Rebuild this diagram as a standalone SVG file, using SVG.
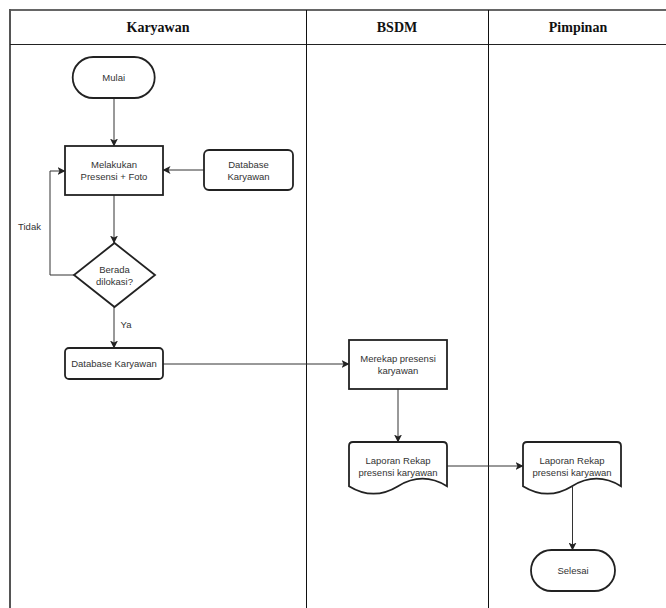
<svg xmlns="http://www.w3.org/2000/svg" width="666" height="608" viewBox="0 0 666 608">
  <defs>
    <style>
      .lane-title { font-family: "Liberation Serif", "Times New Roman", serif; font-weight: bold; font-size: 14px; fill: #111; text-anchor: middle; }
      .label { font-family: "Liberation Sans", Arial, sans-serif; font-size: 9.5px; fill: #333; text-anchor: middle; }
      .shape { fill: #fff; stroke: #222; stroke-width: 1.8; }
      .edge { fill: none; stroke: #333; stroke-width: 1; }
    </style>
    <marker id="arrow" viewBox="0 0 8 8" refX="7.5" refY="4" markerWidth="8" markerHeight="8" markerUnits="userSpaceOnUse" orient="auto">
      <path d="M0,0 L8,4 L0,8 L2,4 z" fill="#222"/>
    </marker>
  </defs>

  <rect width="666" height="608" fill="#fff"/>

  <!-- swimlane frame -->
  <g id="lanes">
    <line x1="10" y1="10" x2="666" y2="10" stroke="#666" stroke-width="2"/>
    <line x1="10" y1="9" x2="10" y2="608" stroke="#555" stroke-width="2"/>
    <line x1="10" y1="44.5" x2="666" y2="44.5" stroke="#222" stroke-width="1"/>
    <line x1="306.5" y1="10" x2="306.5" y2="608" stroke="#111" stroke-width="1"/>
    <line x1="488.5" y1="10" x2="488.5" y2="608" stroke="#111" stroke-width="1"/>
    <text class="lane-title" x="158" y="32">Karyawan</text>
    <text class="lane-title" x="397" y="32">BSDM</text>
    <text class="lane-title" x="578" y="32">Pimpinan</text>
  </g>

  <!-- connectors -->
  <g id="connectors">
    <path class="edge" d="M114,98 L114,146" marker-end="url(#arrow)"/>
    <path class="edge" d="M204,170 L163,170" marker-end="url(#arrow)"/>
    <path class="edge" d="M114,195 L114,243" marker-end="url(#arrow)"/>
    <path class="edge" d="M74,275 L50,275 L50,171 L65,171" marker-end="url(#arrow)"/>
    <path class="edge" d="M114,307 L114,348" marker-end="url(#arrow)"/>
    <path class="edge" d="M163,364 L349,364" marker-end="url(#arrow)"/>
    <path class="edge" d="M398,389 L398,442" marker-end="url(#arrow)"/>
    <path class="edge" d="M447,466 L523,466" marker-end="url(#arrow)"/>
    <path class="edge" d="M572.5,487 L572.5,550" marker-end="url(#arrow)"/>
    <text class="label" x="29.5" y="230">Tidak</text>
    <text class="label" x="126" y="328">Ya</text>
  </g>

  <g id="mulai">
    <rect class="shape" x="72.7" y="57" width="82" height="41" rx="20.5"/>
    <text class="label" x="113.7" y="81">Mulai</text>
  </g>

  <g id="melakukan-presensi">
    <rect class="shape" x="65" y="146" width="98" height="49"/>
    <text class="label" x="114" y="168">Melakukan</text>
    <text class="label" x="114" y="180">Presensi + Foto</text>
  </g>

  <g id="database-karyawan-input">
    <rect class="shape" x="204" y="150" width="89" height="40" rx="5"/>
    <text class="label" x="248.5" y="168">Database</text>
    <text class="label" x="248.5" y="180">Karyawan</text>
  </g>

  <g id="berada-dilokasi">
    <polygon class="shape" points="114.5,243 155,275 114.5,307 74,275"/>
    <text class="label" x="114.5" y="273">Berada</text>
    <text class="label" x="114.5" y="285">dilokasi?</text>
  </g>

  <g id="database-karyawan">
    <rect class="shape" x="65" y="348" width="98" height="31" rx="4"/>
    <text class="label" x="114" y="367">Database Karyawan</text>
  </g>

  <g id="merekap-presensi">
    <rect class="shape" x="349" y="340" width="98" height="49"/>
    <text class="label" x="398" y="362">Merekap presensi</text>
    <text class="label" x="398" y="374">karyawan</text>
  </g>

  <g id="laporan-bsdm">
    <path class="shape" d="M349,446 Q349,442 353,442 L443,442 Q447,442 447,446 L447,486.2 Q422.5,471.2 398,486.2 Q373.5,501.2 349,486.2 Z"/>
    <text class="label" x="398" y="464">Laporan Rekap</text>
    <text class="label" x="398" y="476">presensi karyawan</text>
  </g>

  <g id="laporan-pimpinan">
    <path class="shape" d="M523,446 Q523,442 527,442 L617,442 Q621,442 621,446 L621,486.2 Q596.5,471.2 572,486.2 Q547.5,501.2 523,486.2 Z"/>
    <text class="label" x="572" y="464">Laporan Rekap</text>
    <text class="label" x="572" y="476">presensi karyawan</text>
  </g>

  <g id="selesai">
    <rect class="shape" x="531" y="550" width="84" height="41" rx="20.5"/>
    <text class="label" x="573" y="574">Selesai</text>
  </g>
</svg>
